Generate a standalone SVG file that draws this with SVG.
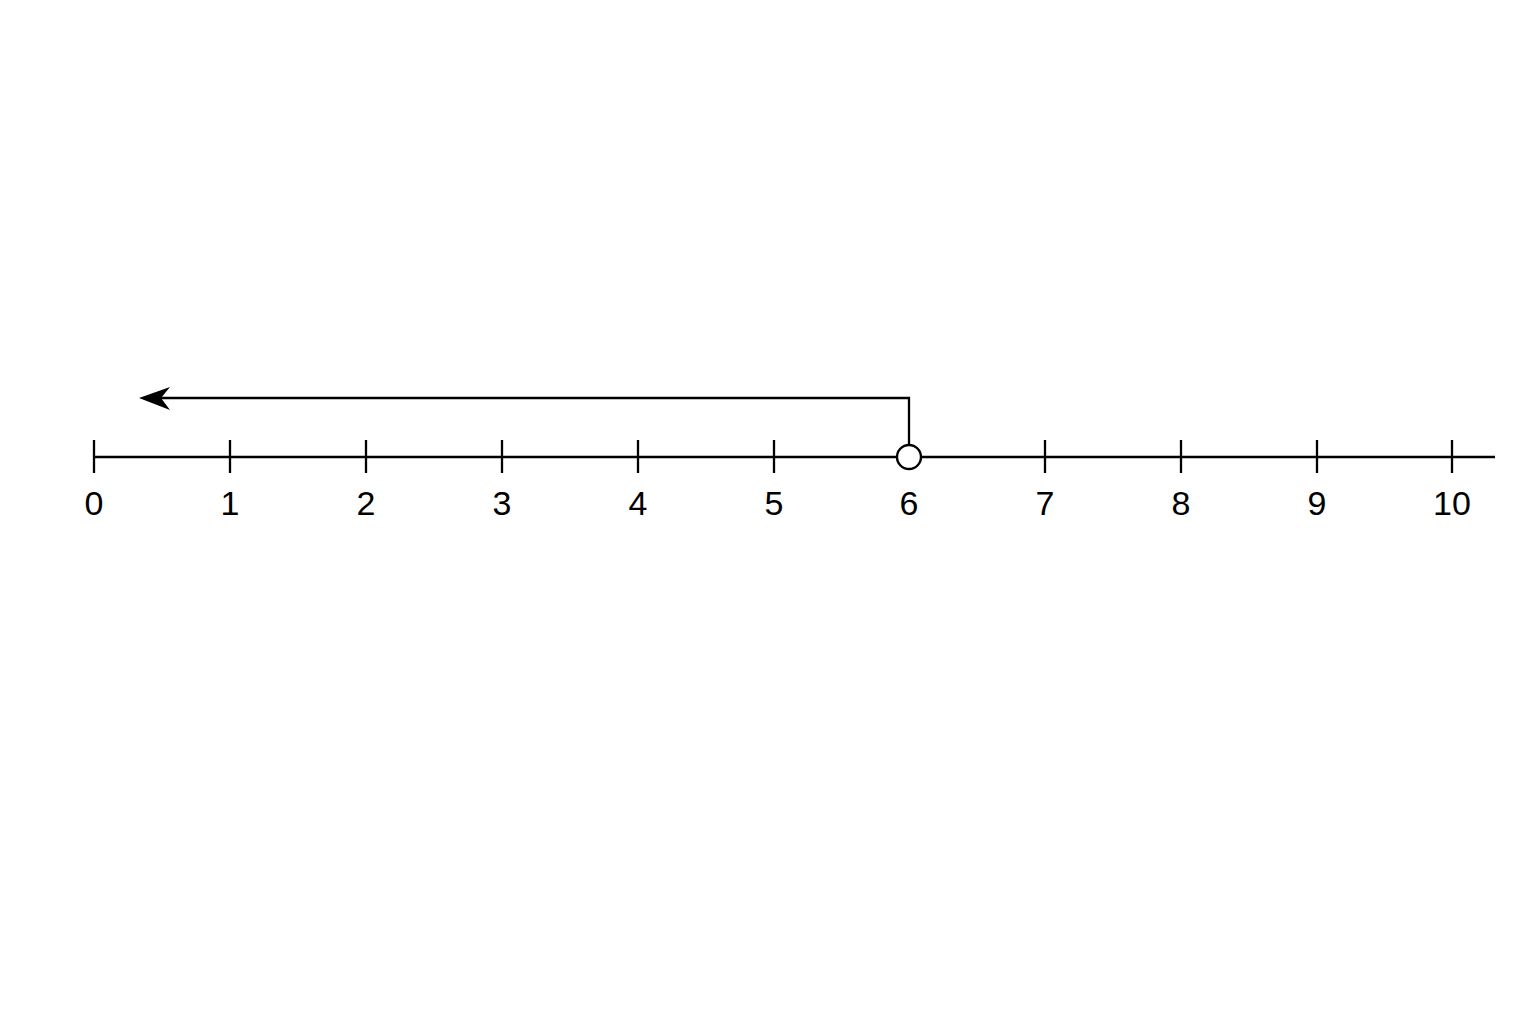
<svg xmlns="http://www.w3.org/2000/svg" width="1536" height="1024" viewBox="0 0 1536 1024">
<style>
.ln{stroke:#000;stroke-width:2.3;fill:none}
.lb{font-family:"Liberation Sans",Arial,sans-serif;font-size:34px;fill:#000;text-anchor:middle}
</style>
<rect width="1536" height="1024" fill="#fff"/>
<g id="axis">
<line class="ln" x1="94" y1="457" x2="1495" y2="457"/>
<g class="ln">
<line x1="94" y1="440" x2="94" y2="473"/>
<line x1="230" y1="440" x2="230" y2="473"/>
<line x1="366" y1="440" x2="366" y2="473"/>
<line x1="502" y1="440" x2="502" y2="473"/>
<line x1="638" y1="440" x2="638" y2="473"/>
<line x1="774" y1="440" x2="774" y2="473"/>
<line x1="1045" y1="440" x2="1045" y2="473"/>
<line x1="1181" y1="440" x2="1181" y2="473"/>
<line x1="1317" y1="440" x2="1317" y2="473"/>
<line x1="1452" y1="440" x2="1452" y2="473"/>
</g>
<g class="lb">
<text x="94" y="515">0</text>
<text x="230" y="515">1</text>
<text x="366" y="515">2</text>
<text x="502" y="515">3</text>
<text x="638" y="515">4</text>
<text x="774" y="515">5</text>
<text x="909" y="515">6</text>
<text x="1045" y="515">7</text>
<text x="1181" y="515">8</text>
<text x="1317" y="515">9</text>
<text x="1452" y="515">10</text>
</g>
</g>
<g id="connectors">
<polyline class="ln" points="909,445 909,398 160,398"/>
<path d="M139,398 L170,387 L161,398 L170,410 Z" fill="#000"/>
</g>
<g id="point6">
<circle cx="909" cy="457" r="12" fill="#fff" stroke="#000" stroke-width="2.4"/>
</g>
</svg>
